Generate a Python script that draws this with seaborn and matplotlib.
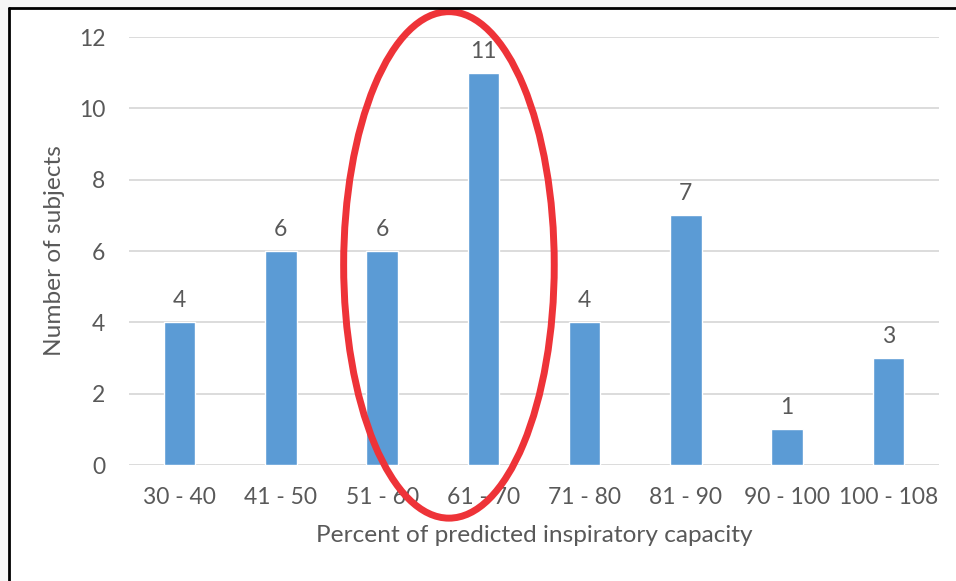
import matplotlib
matplotlib.use("Agg")
import matplotlib.pyplot as plt
import pandas as pd
import seaborn as sns
from matplotlib.patches import Ellipse, Rectangle
from matplotlib.lines import Line2D

ranges = ["30 - 40", "41 - 50", "51 - 60", "61 - 70", "71 - 80", "81 - 90", "90 - 100", "100 - 108"]
subjects = [4, 6, 6, 11, 4, 7, 1, 3]
y_ticks = [0, 2, 4, 6, 8, 10, 12]

sns.set_theme(style="white")
plt.rcParams["font.family"] = ["Lato", "DejaVu Sans"]

GREY = "#595959"
df = pd.DataFrame({"range": ranges, "subjects": subjects})

W, H = 956, 581
fig = plt.figure(figsize=(W / 100, H / 100), dpi=100)
fig.patch.set_facecolor("white")
# light grey strips outside the framed region
fig.patches.append(Rectangle((0, 1 - 8 / H), 1, 8 / H, transform=fig.transFigure,
                             facecolor="#f6f6f6", edgecolor="none", zorder=-1))
fig.patches.append(Rectangle((0, 0), 9 / W, 1, transform=fig.transFigure,
                             facecolor="#f6f6f6", edgecolor="none", zorder=-1))
fig.lines.append(Line2D([9 / W, 1], [1 - 8 / H, 1 - 8 / H], transform=fig.transFigure, color="black", lw=2))
fig.lines.append(Line2D([9 / W, 9 / W], [0, 1 - 8 / H], transform=fig.transFigure, color="black", lw=2))

ax = fig.add_axes([129 / W, 1 - 465 / H, 810 / W, 428 / H])
ax.set_facecolor("none")
sns.barplot(data=df, x="range", y="subjects", color="#5b9bd5", width=0.31, saturation=1, ax=ax, zorder=3)
ax.bar_label(ax.containers[0], padding=8, fontsize=16.5, color=GREY)

ax.set_xlim(-0.5, len(ranges) - 0.5)
ax.set_ylim(0, 12)
ax.set_yticks(y_ticks)
ax.yaxis.grid(True, color="#d9d9d9", lw=1.3, zorder=0)
ax.set_axisbelow(True)
for s in ax.spines.values():
    s.set_visible(False)
ax.tick_params(axis="y", length=0, pad=17, labelsize=16.5, labelcolor=GREY)
ax.tick_params(axis="x", length=0, pad=16, labelsize=16.5, labelcolor=GREY)
ax.set_xlabel("Percent of predicted inspiratory capacity", fontsize=17.6, color=GREY, labelpad=12)
ax.set_ylabel("Number of subjects", fontsize=17.6, color=GREY, labelpad=10)

# red highlight ring around 51-60 / 61-70
ax.add_patch(Ellipse((2.66, 5.61), 2.08, 14.2, facecolor="none", edgecolor="#ee3338",
                     lw=5, clip_on=False, zorder=5))

fig.savefig("out.png", dpi=100)
